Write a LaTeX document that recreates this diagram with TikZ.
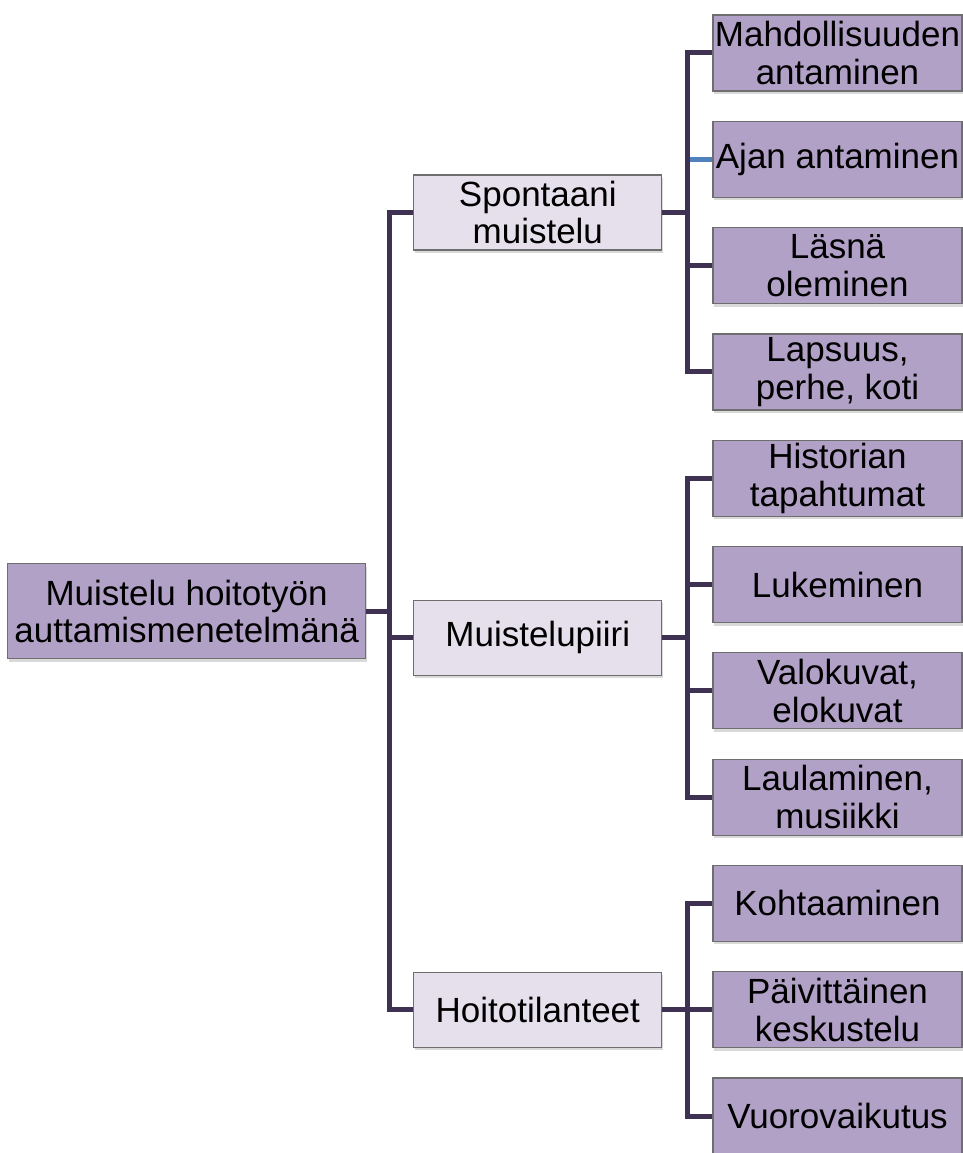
\documentclass[tikz,border=0pt]{standalone}
\usepackage{fontspec}
\setmainfont{Liberation Sans}
\usepackage{tikz}
\usetikzlibrary{positioning,calc,shadows}
\definecolor{lilac}{HTML}{B2A1C7}
\definecolor{paleLilac}{HTML}{E5E0EC}
\definecolor{plum}{HTML}{3F3151}
\definecolor{frameGray}{HTML}{6E6E6E}
\definecolor{linkBlue}{HTML}{4F81BD}
\tikzset{
  rootbox/.style={
    draw=frameGray,
    line width=1.2pt,
    fill=lilac,
    align=center,
    minimum width=358pt,
    minimum height=95pt,
    inner sep=2pt,
    font=\fontsize{35}{37}\selectfont,
    drop shadow={shadow xshift=1pt, shadow yshift=-3pt, opacity=0.3}
  },
  midbox/.style={
    draw=frameGray,
    line width=1.2pt,
    fill=paleLilac,
    align=center,
    minimum width=248pt,
    minimum height=75pt,
    inner sep=2pt,
    font=\fontsize{35}{37}\selectfont,
    drop shadow={shadow xshift=1pt, shadow yshift=-3pt, opacity=0.3}
  },
  leafbox/.style={
    draw=frameGray,
    line width=1.2pt,
    fill=lilac,
    align=center,
    minimum width=249pt,
    minimum height=76pt,
    inner sep=1pt,
    font=\fontsize{35}{38}\selectfont,
    drop shadow={shadow xshift=1pt, shadow yshift=-3pt, opacity=0.3}
  },
  link/.style={line width=5pt, draw=plum, line join=miter}
}

\begin{document}
\begin{tikzpicture}[node distance=29.1pt and 50pt]
\useasboundingbox (0,0) rectangle (963pt,-1153pt);

% leaves
\node[leafbox] (mahd) at (837.5pt,-53pt) {Mahdollisuuden\\antaminen};
\node[leafbox, below=of mahd] (ajan) {Ajan antaminen};
\node[leafbox, below=of ajan] (lasna) {Läsnä\\oleminen};
\node[leafbox, below=of lasna] (lapsuus) {Lapsuus,\\perhe, koti};
\node[leafbox, below=of lapsuus] (historia) {Historian\\tapahtumat};
\node[leafbox, below=of historia] (lukem) {Lukeminen};
\node[leafbox, below=of lukem] (valok) {Valokuvat,\\elokuvat};
\node[leafbox, below=of valok] (laulu) {Laulaminen,\\musiikki};
\node[leafbox, below=of laulu] (kohtaa) {Kohtaaminen};
\node[leafbox, below=of kohtaa] (paiva) {Päivittäinen\\keskustelu};
\node[leafbox, below=of paiva] (vuoro) {Vuorovaikutus};

% middle level
\coordinate (spontmid) at ($(mahd.west)!0.5!(lapsuus.west)$);
\coordinate (piirimid) at ($(historia.west)!0.5!(laulu.west)$);
\coordinate (hoitomid) at ($(kohtaa.west)!0.5!(vuoro.west)$);
\node[midbox, left=of spontmid] (spont) {Spontaani\\muistelu};
\node[midbox, left=of piirimid] (piiri) {Muistelupiiri};
\node[midbox, left=of hoitomid] (hoito) {Hoitotilanteet};

% root
\coordinate (rootmid) at ($(spont.west)!0.5!(hoito.west)$);
\node[rootbox, left=47pt of rootmid] (root) {Muistelu hoitotyön\\auttamismenetelmänä};

\draw[link] (root.east) -- ++(23.5pt,0) |- (spont.west);
\draw[link] (root.east) -- ++(23.5pt,0) |- (piiri.west);
\draw[link] (root.east) -- ++(23.5pt,0) |- (hoito.west);

\draw[link, draw=linkBlue] (spont.east) -- ++(25pt,0) |- (ajan.west);
\draw[link] (spont.east) -- ++(25pt,0) |- (mahd.west);
\draw[link] (spont.east) -- ++(25pt,0) |- (lasna.west);
\draw[link] (spont.east) -- ++(25pt,0) |- (lapsuus.west);

\draw[link] (piiri.east) -- ++(25pt,0) |- (historia.west);
\draw[link] (piiri.east) -- ++(25pt,0) |- (lukem.west);
\draw[link] (piiri.east) -- ++(25pt,0) |- (valok.west);
\draw[link] (piiri.east) -- ++(25pt,0) |- (laulu.west);

\draw[link] (hoito.east) -- ++(25pt,0) |- (kohtaa.west);
\draw[link] (hoito.east) -- ++(25pt,0) |- (paiva.west);
\draw[link] (hoito.east) -- ++(25pt,0) |- (vuoro.west);
\end{tikzpicture}
\end{document}
